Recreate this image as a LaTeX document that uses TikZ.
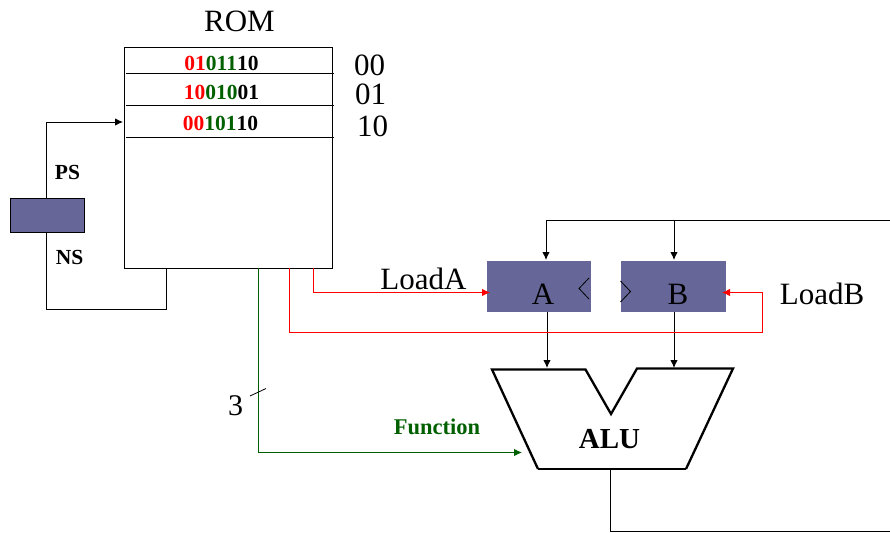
\documentclass[tikz,border=0pt]{standalone}
\usepackage{fontspec}
\setmainfont{Liberation Serif}
\usetikzlibrary{arrows.meta}
\definecolor{regfill}{HTML}{666699}
\definecolor{dgreen}{HTML}{006000}
\definecolor{sred}{HTML}{FF0000}
\tikzset{
  x=1pt,y=-1pt,
  wire/.style={line width=1pt,draw=black},
  arr/.style={wire,-{Latex[length=8pt,width=7.5pt]}},
  redarr/.style={line width=1pt,draw=sred,-{Latex[length=8pt,width=7.5pt]}},
  greenarr/.style={line width=1pt,draw=dgreen,-{Latex[length=8pt,width=7.5pt]}},
  reg/.style={fill=regfill,draw=none,inner sep=0pt,anchor=north west},
  big/.style={inner sep=0pt,font=\fontsize{31}{31}\selectfont},
  bits/.style={inner sep=0pt,font=\fontsize{21.5}{22}\selectfont\bfseries},
  lab/.style={inner sep=0pt,font=\fontsize{21.5}{22}\selectfont\bfseries},
}
\begin{document}
\begin{tikzpicture}
\useasboundingbox (0,0) rectangle (890,532);
\clip (0,0) rectangle (890,532);
% ROM
\node[draw=black,line width=1pt,inner sep=0pt,minimum width=208pt,minimum height=221pt,anchor=north west] (rom) at (123.5,47) {};
\node[big] (romt) at (239.5,21.5) {ROM};
\coordinate (r1a) at (126,73.5); \coordinate (r1b) at (334,73.5);
\coordinate (r2a) at (126,105.5); \coordinate (r2b) at (334,105.5);
\coordinate (r3a) at (126,137.5); \coordinate (r3b) at (334,137.5);
\draw[wire] (r1a) -- (r1b);
\draw[wire] (r2a) -- (r2b);
\draw[wire] (r3a) -- (r3b);
\node[bits] (w0) at (221.5,63) {\textcolor{sred}{01}\textcolor{dgreen}{011}10};
\node[bits] (w1) at (221.5,92) {\textcolor{sred}{10}\textcolor{dgreen}{010}01};
\node[bits] (w2) at (220.5,123.5) {\textcolor{sred}{00}\textcolor{dgreen}{101}10};
\node[big] (a0) at (369.5,65.5) {00};
\node[big] (a1) at (370.5,94.5) {01};
\node[big] (a2) at (372.5,126) {10};
% State register
\node[reg,draw=black,line width=1pt,minimum width=74pt,minimum height=34pt] (sr) at (9.5,197.5) {};
\node[lab] (ps) at (67.5,172) {PS};
\node[lab] (ns) at (69.5,257) {NS};
\coordinate (psT) at (46.5,122);
\coordinate (romin) at (123,122);
\coordinate (nsB) at (46.5,309.5);
\coordinate (romB) at (166.5,309.5);
\coordinate (romO) at (166.5,268);
\coordinate (srT) at (46.5,198);
\coordinate (srB) at (46.5,232);
\draw[arr] (srT) -- (psT) -- (romin);
\draw[wire] (srB) -- (nsB) -- (romB) -- (romO);
% Registers
\node[reg,minimum width=104.5pt,minimum height=51pt] (A) at (486.5,261) {};
\node[reg,minimum width=105pt,minimum height=51pt] (B) at (621,261) {};
\node[big] (Al) at (543,294) {A};
\node[big] (Bl) at (678,294) {B};
\coordinate (cka1) at (589,278); \coordinate (cka2) at (579,288.5); \coordinate (cka3) at (589,299);
\coordinate (ckb1) at (620.5,281); \coordinate (ckb2) at (630.5,291.5); \coordinate (ckb3) at (620.5,302);
\draw[line width=.8pt] (cka1) -- (cka2) -- (cka3);
\draw[line width=.8pt] (ckb1) -- (ckb2) -- (ckb3);
% Bus
\coordinate (busR) at (890,220.5);
\coordinate (busA) at (546,220.5);
\coordinate (busB) at (674,220.5);
\coordinate (Atop) at (546,260);
\coordinate (Btop) at (674,260);
\draw[arr] (busR) -- (busA) -- (Atop);
\draw[arr] (busB) -- (Btop);
% ALU
\coordinate (p1) at (492,369.5);
\coordinate (p2) at (585.5,369.5);
\coordinate (p3) at (611,414);
\coordinate (p4) at (637,368.5);
\coordinate (p5) at (733,368.5);
\coordinate (p6) at (686,469);
\coordinate (p7) at (538,469);
\draw[line width=2.3pt,line join=miter] (p7) -- (p1) -- (p2) -- (p3) -- (p4) -- (p5) -- (p6);
\draw[line width=1.3pt] (p6) -- (p7);
\node[inner sep=0pt,font=\fontsize{29}{29}\selectfont\bfseries] (alu) at (609.5,439) {ALU};
% Register to ALU
\coordinate (Ab) at (547,312); \coordinate (Bb) at (674,312);
\coordinate (Ai) at (547,368); \coordinate (Bi) at (674,368);
\draw[arr] (Ab) -- (Ai);
\draw[arr] (Bb) -- (Bi);
% ALU output
\coordinate (aluO) at (610.5,470);
\coordinate (aluC) at (610.5,531);
\coordinate (aluR) at (890,531);
\draw[wire] (aluO) -- (aluC) -- (aluR);
% Load A / Load B
\node[big] (la) at (423.5,278.5) {LoadA};
\node[big] (lb) at (822,294) {LoadB};
\coordinate (ra) at (313.5,268);
\coordinate (ra2) at (313.5,292.5);
\coordinate (Ain) at (490,292.5);
\draw[redarr] (ra) -- (ra2) -- (Ain);
\coordinate (rb) at (289.5,268);
\coordinate (rb2) at (289.5,332.5);
\coordinate (rb3) at (762.5,332.5);
\coordinate (rb4) at (762.5,292.5);
\coordinate (Bin) at (722,292.5);
\draw[redarr] (rb) -- (rb2) -- (rb3) -- (rb4) -- (Bin);
% Function
\coordinate (fa) at (258.5,268);
\coordinate (fb) at (258.5,452.5);
\coordinate (fc) at (522,452.5);
\draw[greenarr] (fa) -- (fb) -- (fc);
\coordinate (t1) at (250,396); \coordinate (t2) at (266,388.5);
\draw[line width=.8pt] (t1) -- (t2);
\node[big,font=\fontsize{30}{30}\selectfont] (three) at (235.5,406) {3};
\node[inner sep=0pt,text=dgreen,font=\fontsize{22.5}{23}\selectfont\bfseries] (fn) at (437,427) {Function};
\end{tikzpicture}
\end{document}
